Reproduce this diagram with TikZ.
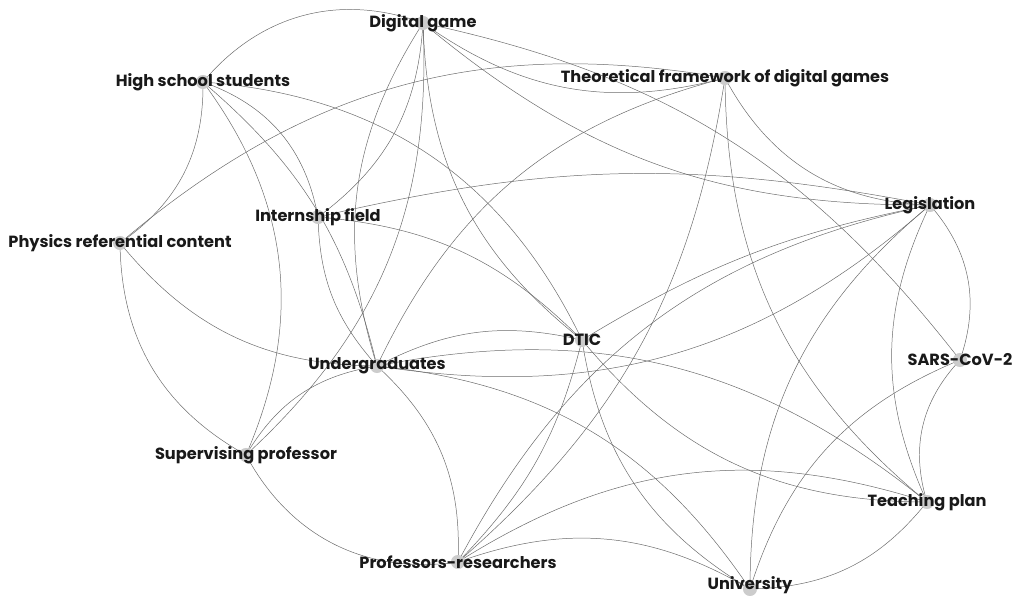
\documentclass[tikz,border=0pt]{standalone}
\usepackage{fontspec}
\setmainfont{Poppins}
\begin{document}
\begin{tikzpicture}[x=0.025cm,y=0.025cm,
  edge/.style={draw=black!58,line width=0.35pt},
  dot/.style={circle,fill=black!20,inner sep=0pt,minimum size=10pt},
  lab/.style={font=\fontsize{11.5}{13}\selectfont\bfseries,text=black!90,inner sep=0pt}]
\useasboundingbox (0,0) rectangle (1014,595);
\coordinate (DG) at (423,572);
\coordinate (HSS) at (203,513);
\coordinate (TF) at (725,517);
\coordinate (IF) at (318,378);
\coordinate (LEG) at (930,390);
\coordinate (PHY) at (120,352);
\coordinate (DTIC) at (582,255);
\coordinate (UND) at (377,229);
\coordinate (SARS) at (960,235);
\coordinate (SP) at (246,140);
\coordinate (TP) at (927,93);
\coordinate (PR) at (458,33);
\coordinate (UNI) at (750,6);
% edges
\draw[edge] (HSS) to[bend left=35] (DG);
\draw[edge] (HSS) to[bend left=28] (PHY);
\draw[edge] (HSS) to[bend left=30] (DTIC);
\draw[edge] (HSS) to[bend left=30] (IF);
\draw[edge] (HSS) to[bend left=30] (SP);
\draw[edge] (HSS) to[bend left=18] (UND);
\draw[edge] (PHY) to[bend right=30] (SP);
\draw[edge] (PHY) to[bend right=25] (UND);
\draw[edge] (PHY) to[bend left=25] (TF);
\draw[edge] (IF) to[bend right=25] (DG);
\draw[edge] (IF) to[bend left=12] (LEG);
\draw[edge] (IF) to[bend left=20] (DTIC);
\draw[edge] (IF) to[bend right=20] (UND);
\draw[edge] (DG) to[bend right=25] (TF);
\draw[edge] (DG) to[bend right=20] (LEG);
\draw[edge] (DG) to[bend right=25] (DTIC);
\draw[edge] (DG) to[bend right=25] (UND);
\draw[edge] (DG) to[bend left=25] (SP);
\draw[edge] (DG) to[bend left=20] (SARS);
\draw[edge] (TF) to[bend right=30] (LEG);
\draw[edge] (TF) to[bend right=25] (TP);
\draw[edge] (TF) to[bend left=20] (PR);
\draw[edge] (UND) to[bend left=25] (TF);
\draw[edge] (UND) to[bend left=20] (DTIC);
\draw[edge] (UND) to[bend left=25] (TP);
\draw[edge] (UND) to[bend right=25] (LEG);
\draw[edge] (UND) to[bend left=25] (UNI);
\draw[edge] (UND) to[bend left=25] (PR);
\draw[edge] (UND) to[bend right=25] (SP);
\draw[edge] (SP) to[bend right=35] (PR);
\draw[edge] (PR) to[bend left=25] (UNI);
\draw[edge] (PR) to[bend left=25] (TP);
\draw[edge] (PR) to[bend left=25] (LEG);
\draw[edge] (DTIC) to[bend left=15] (PR);
\draw[edge] (DTIC) to[bend right=25] (UNI);
\draw[edge] (DTIC) to[bend right=25] (TP);
\draw[edge] (DTIC) to[bend left=10] (LEG);
\draw[edge] (LEG) to[bend left=30] (SARS);
\draw[edge] (LEG) to[bend right=25] (TP);
\draw[edge] (LEG) to[bend right=25] (UNI);
\draw[edge] (SARS) to[bend right=30] (TP);
\draw[edge] (SARS) to[bend right=25] (UNI);
\draw[edge] (TP) to[bend left=25] (UNI);
% dots
\foreach \n in {DG,HSS,TF,IF,LEG,PHY,DTIC,UND,SARS,SP,TP,PR,UNI}
  \node[dot] (\n d) at (\n) {};
% labels
\node[lab] (DGl) at (DG) {Digital game};
\node[lab] (HSSl) at (HSS) {High school students};
\node[lab] (TFl) at (TF) {Theoretical framework of digital games};
\node[lab] (IFl) at (IF) {Internship field};
\node[lab] (LEGl) at (LEG) {Legislation};
\node[lab] (PHYl) at (PHY) {Physics referential content};
\node[lab] (DTICl) at (DTIC) {DTIC};
\node[lab] (UNDl) at (UND) {Undergraduates};
\node[lab] (SARSl) at (SARS) {SARS-CoV-2};
\node[lab] (SPl) at (SP) {Supervising professor};
\node[lab] (TPl) at (TP) {Teaching plan};
\node[lab] (PRl) at (PR) {Professors-researchers};
\node[lab,anchor=south] (UNIl) at (750,1) {University};
\end{tikzpicture}
\end{document}
